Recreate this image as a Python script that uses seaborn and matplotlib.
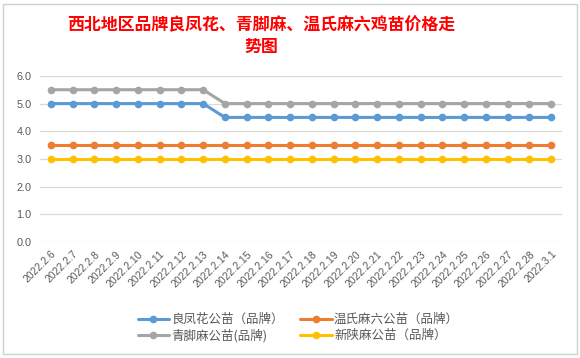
import matplotlib
matplotlib.use("Agg")
import matplotlib.pyplot as plt
import seaborn as sns
import pandas as pd
from matplotlib.patches import Rectangle

# chart data
dates = ["2022.2.6", "2022.2.7", "2022.2.8", "2022.2.9", "2022.2.10", "2022.2.11",
         "2022.2.12", "2022.2.13", "2022.2.14", "2022.2.15", "2022.2.16", "2022.2.17",
         "2022.2.18", "2022.2.19", "2022.2.20", "2022.2.21", "2022.2.22", "2022.2.23",
         "2022.2.24", "2022.2.25", "2022.2.26", "2022.2.27", "2022.2.28", "2022.3.1"]
liangfenghua = [5.0] * 8 + [4.5] * 16
wenshi_maliu = [3.5] * 24
qingjiaoma = [5.5] * 8 + [5.0] * 16
xinshaanma = [3.0] * 24

series_names = ["良凤花公苗（品牌）", "温氏麻六公苗（品牌）", "青脚麻公苗(品牌)", "新陕麻公苗（品牌）"]
series_values = [liangfenghua, wenshi_maliu, qingjiaoma, xinshaanma]
colors = ["#5B9BD5", "#ED7D31", "#A5A5A5", "#FFC000"]
yticks = [0.0, 1.0, 2.0, 3.0, 4.0, 5.0, 6.0]

title = "西北地区品牌良凤花、青脚麻、温氏麻六鸡苗价格走\n势图"

rows = []
for name, vals in zip(series_names, series_values):
    for i, v in enumerate(vals):
        rows.append({"idx": i, "price": v, "series": name})
df = pd.DataFrame(rows)

sns.set_style("white")
plt.rcParams['font.family'] = ['Noto Sans CJK SC', 'DejaVu Sans']

fig = plt.figure(figsize=(5.8, 3.58), dpi=100)
fig.patch.set_facecolor("white")
fig.add_artist(Rectangle((0.006, 0.012), 0.988, 0.976, transform=fig.transFigure,
                         fill=False, edgecolor="#D0D0D0", linewidth=1))

ax = fig.add_axes([0.069, 0.324, 0.9, 0.464])
sns.lineplot(data=df, x="idx", y="price", hue="series", hue_order=series_names,
             palette=colors, marker="o", markersize=5.5, markeredgewidth=0,
             linewidth=2.2, ax=ax, legend=True)

ax.set_xlim(-0.5, len(dates) - 0.5)
ax.set_ylim(0, 6)
ax.set_yticks(yticks)
ax.set_yticklabels([f"{t:.1f}" for t in yticks], fontsize=7.8, color="#595959",
                   family=['Liberation Sans', 'DejaVu Sans'])
ax.set_xticks(range(len(dates)))
ax.set_xticklabels(dates, rotation=45, ha="right", rotation_mode="anchor",
                   fontsize=7.5, color="#595959", family=['Liberation Sans', 'DejaVu Sans'])
ax.tick_params(axis="y", length=0, pad=6)
ax.tick_params(axis="x", length=0, pad=5)
ax.grid(axis="y", color="#D9D9D9", linewidth=0.9)
ax.set_axisbelow(True)
ax.set_xlabel("")
ax.set_ylabel("")
for s in ax.spines.values():
    s.set_visible(False)

handles, labels = ax.get_legend_handles_labels()
order = [0, 2, 1, 3]
ax.legend([handles[i] for i in order], [labels[i] for i in order], ncol=2,
          loc="upper center", bbox_to_anchor=(0.495, -0.36), frameon=False,
          fontsize=9, labelcolor="#595959", handlelength=2.5,
          columnspacing=1.3, handletextpad=0.2, labelspacing=0.25)

fig.text(0.45, 0.955, title, ha="center", va="top", color="#FF0000",
         fontsize=12.2, fontweight="bold", linespacing=1.3)

fig.savefig("out.png", dpi=100)
